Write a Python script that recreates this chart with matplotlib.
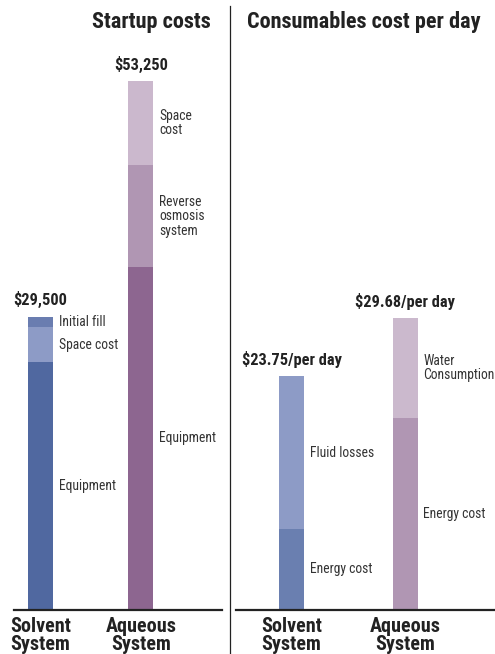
"""
Startup costs and daily consumables cost, solvent vs aqueous cleaning system
"""
import numpy as np
import matplotlib.pyplot as plt
from matplotlib import font_manager
from matplotlib.lines import Line2D

# data
categories = ["Solvent\nSystem", "Aqueous\nSystem"]

solvent_startup = [24900, 3600, 1000]  # $
solvent_startup_parts = ["Equipment", "Space cost", "Initial fill"]
aqueous_startup = [34500, 10250, 8500]  # $
aqueous_startup_parts = ["Equipment", "Reverse\nosmosis\nsystem", "Space\ncost"]

solvent_daily = [8.20, 15.55]  # $/day
solvent_daily_parts = ["Energy cost", "Fluid losses"]
aqueous_daily = [19.50, 10.18]  # $/day
aqueous_daily_parts = ["Energy cost", "Water\nConsumption"]

# colours
solvent_startup_colors = ["#5068a0", "#8d9bc6", "#6a7db0"]
aqueous_startup_colors = ["#8d6690", "#b096b3", "#cbb8cd"]
solvent_daily_colors = ["#6a7fb0", "#8d9bc6"]
aqueous_daily_colors = ["#b096b3", "#cbb9cd"]

# font: narrow sans if available
installed = {f.name for f in font_manager.fontManager.ttflist}
for fam in ["Liberation Sans Narrow", "DejaVu Sans Condensed", "Roboto Condensed", "Liberation Sans"]:
    if fam in installed:
        plt.rcParams['font.family'] = fam
        break
txt = "#222222"

W, H = 495, 654
fig = plt.figure(figsize=(W / 100, H / 100), dpi=100)

base = 609.5  # baseline, px from top


def make_axes(x0, x1, centers, top_px, top_val):
    ax = fig.add_axes([x0 / W, (H - base) / H, (x1 - x0) / W, base / H])
    step = centers[1] - centers[0]
    ax.set_xlim((x0 - centers[0]) / step, (x1 - centers[0]) / step)
    ax.set_ylim(0, top_val * base / (base - top_px))
    for s in ["top", "left", "right"]:
        ax.spines[s].set_visible(False)
    ax.spines["bottom"].set_linewidth(1.6)
    ax.spines["bottom"].set_color(txt)
    ax.set_yticks([])
    ax.set_xticks([0, 1])
    ax.set_xticklabels(categories, fontsize=14.5, color=txt, fontweight="bold", linespacing=0.95)
    ax.tick_params(axis="x", length=0, pad=5.5)
    ax.patch.set_alpha(0)
    return ax, 25 / step


def stack(ax, xpos, width, values, parts, colors, total_label):
    bottom = 0
    for v, p, c in zip(values, parts, colors):
        ax.bar(xpos, v, width, bottom=bottom, color=c, linewidth=0)
        ax.annotate(p, (xpos + width / 2, bottom + v / 2), xytext=(4, 0),
                    textcoords="offset points", ha="left", va="center",
                    fontsize=9.8, color="#333333", linespacing=1.05)
        bottom += v
    ax.annotate(total_label, (xpos, bottom), xytext=(0, 6), textcoords="offset points",
                ha="center", va="bottom", fontsize=11.8, fontweight="bold", color=txt)


# startup costs
ax1, w1 = make_axes(14, 222, (40.5, 141), 81, sum(aqueous_startup))
stack(ax1, 0, w1, solvent_startup, solvent_startup_parts, solvent_startup_colors,
      "${:,.0f}".format(sum(solvent_startup)))
stack(ax1, 1, w1, aqueous_startup, aqueous_startup_parts, aqueous_startup_colors,
      "${:,.0f}".format(sum(aqueous_startup)))

# consumables per day
ax2, w2 = make_axes(236, 494, (291.5, 405), 318, sum(aqueous_daily))
stack(ax2, 0, w2, solvent_daily, solvent_daily_parts, solvent_daily_colors,
      "${:.2f}/per day".format(sum(solvent_daily)))
stack(ax2, 1, w2, aqueous_daily, aqueous_daily_parts, aqueous_daily_colors,
      "${:.2f}/per day".format(sum(aqueous_daily)))

# panel titles and divider
fig.text(211 / W, 1 - 22 / H, "Startup costs", ha="right", va="center",
         fontsize=16, fontweight="bold", color=txt)
fig.text(247 / W, 1 - 22 / H, "Consumables cost per day", ha="left", va="center",
         fontsize=16, fontweight="bold", color=txt)
fig.add_artist(Line2D([229.5 / W, 229.5 / W], [1 - 6 / H, 0], color=txt, linewidth=0.9))

plt.savefig("out.png", dpi=100)
